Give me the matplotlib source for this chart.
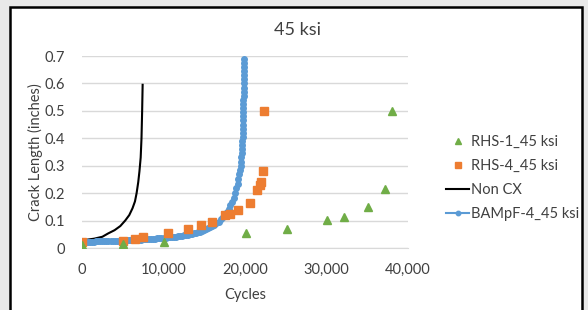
import matplotlib
matplotlib.use("Agg")
import matplotlib.pyplot as plt
from matplotlib.patches import Rectangle

plt.rcParams['font.family'] = ['Lato', 'DejaVu Sans']

# RHS-1_45 ksi (green triangles)
rhs1_x = [0, 5000, 10000, 20100, 25100, 30100, 32100, 35100, 37200, 38000]
rhs1_y = [0.012, 0.015, 0.023, 0.055, 0.070, 0.102, 0.113, 0.150, 0.215, 0.500]

# RHS-4_45 ksi (orange squares)
rhs4_x = [0, 5050, 6500, 7500, 10600, 13050, 14600, 16000, 17550, 18150,
          19100, 20600, 21500, 21800, 21950, 22250, 22370]
rhs4_y = [0.023, 0.025, 0.033, 0.039, 0.055, 0.069, 0.084, 0.096, 0.120, 0.123,
          0.139, 0.163, 0.212, 0.230, 0.240, 0.281, 0.500]

# Non CX (black line)
noncx_x = [300, 1500, 2500, 3200, 4000, 4700, 5300, 5800, 6200, 6500,
           6700, 6900, 7050, 7200, 7300, 7380, 7440]
noncx_y = [0.029, 0.034, 0.041, 0.053, 0.065, 0.080, 0.100, 0.120, 0.145, 0.170,
           0.200, 0.240, 0.280, 0.330, 0.400, 0.500, 0.595]

# BAMpF-4_45 ksi (blue line with dots)
bam_x = [0, 250, 500, 750, 1000, 1250, 1500, 1750, 2000, 2250,
         2500, 2750, 3000, 3250, 3500, 3750, 4000, 4250, 4500, 4750,
         5000, 5250, 5500, 5750, 6000, 6250, 6500, 6750, 7000, 7250,
         7500, 7750, 8000, 8250, 8500, 8750, 9000, 9250, 9500, 9750,
         10000, 10250, 10500, 10750, 11000, 11250, 11500, 11750, 12000, 12250,
         12500, 12750, 13000, 13250, 13500, 13750, 14000, 14250, 14500, 14750,
         15000, 15250, 15500, 15750, 16000, 16250, 16500, 16750, 17000, 17250,
         17500, 17750, 18000, 18200, 18400, 18600, 18800, 18950, 19100, 19200,
         19300, 19380, 19450, 19500, 19550, 19590, 19630, 19660, 19690, 19710,
         19730, 19745, 19760, 19770, 19780, 19790, 19800, 19808, 19815, 19822,
         19828, 19833, 19838, 19842, 19846, 19849, 19852, 19855, 19857]
bam_y = [0.0220, 0.0222, 0.0224, 0.0226, 0.0229, 0.0232, 0.0235, 0.0238, 0.0240, 0.0242,
         0.0244, 0.0247, 0.0250, 0.0253, 0.0256, 0.0259, 0.0262, 0.0265, 0.0268, 0.0271,
         0.0274, 0.0277, 0.0281, 0.0285, 0.0289, 0.0292, 0.0296, 0.0300, 0.0305, 0.0309,
         0.0314, 0.0318, 0.0323, 0.0328, 0.0334, 0.0339, 0.0345, 0.0351, 0.0357, 0.0363,
         0.0370, 0.0377, 0.0385, 0.0393, 0.0401, 0.0410, 0.0419, 0.0429, 0.0439, 0.0450,
         0.0462, 0.0475, 0.0489, 0.0504, 0.0519, 0.0536, 0.0555, 0.0576, 0.0598, 0.0623,
         0.0650, 0.0680, 0.0714, 0.0752, 0.0795, 0.0845, 0.0900, 0.0965, 0.104, 0.112,
         0.121, 0.131, 0.143, 0.155, 0.168, 0.183, 0.200, 0.217, 0.235, 0.251,
         0.268, 0.284, 0.300, 0.315, 0.330, 0.345, 0.360, 0.375, 0.390, 0.405,
         0.420, 0.435, 0.450, 0.465, 0.480, 0.495, 0.510, 0.525, 0.540, 0.555,
         0.570, 0.585, 0.600, 0.615, 0.630, 0.645, 0.660, 0.675, 0.690]

xticks = [0, 10000, 20000, 30000, 40000]
xticklabels = ['0', '10,000', '20,000', '30,000', '40,000']
yticks = [0, 0.1, 0.2, 0.3, 0.4, 0.5, 0.6, 0.7]
yticklabels = ['0', '0.1', '0.2', '0.3', '0.4', '0.5', '0.6', '0.7']

fig = plt.figure(figsize=(5.88, 3.10), dpi=100)
fig.patch.set_facecolor('#e9e9e9')
frame = Rectangle((10 / 588, -0.05), 572 / 588, 1.05 - 7 / 310,
                  transform=fig.transFigure, facecolor='white',
                  edgecolor='black', linewidth=1.8, zorder=-5)
fig.patches.append(frame)

ax = fig.add_axes([82 / 588, 1 - 248 / 310, 326 / 588, 192 / 310])
ax.set_facecolor('white')

ax.plot(bam_x, bam_y, color='#5B9BD5', marker='o', markersize=4, linewidth=1.5,
        label='BAMpF-4_45 ksi', zorder=3)
ax.plot(noncx_x, noncx_y, color='black', linewidth=1.5, label='Non CX', zorder=2)
ax.plot(rhs4_x, rhs4_y, linestyle='none', marker='s', markersize=6,
        color='#ED7D31', label='RHS-4_45 ksi', zorder=4)
ax.plot(rhs1_x, rhs1_y, linestyle='none', marker='^', markersize=6,
        color='#70AD47', label='RHS-1_45 ksi', zorder=4)

ax.set_xlim(0, 40000)
ax.set_ylim(0, 0.7)
ax.set_xticks(xticks)
ax.set_xticklabels(xticklabels)
ax.set_yticks(yticks)
ax.set_yticklabels(yticklabels)
ax.tick_params(length=0, labelsize=10.5, colors='#404040')
ax.tick_params(axis='y', pad=12)
ax.tick_params(axis='x', pad=11)
ax.grid(axis='y', color='#d9d9d9', linewidth=1)
ax.set_axisbelow(True)
for s in ['top', 'right', 'left']:
    ax.spines[s].set_visible(False)
ax.spines['bottom'].set_color('#d9d9d9')

ax.set_xlabel('Cycles', fontsize=10.5, color='#404040', labelpad=8)
ax.set_ylabel('Crack Length (inches)', fontsize=10.5, color='#404040', labelpad=1)
fig.text(298 / 588, 1 - 30 / 310, '45 ksi', ha='center', va='center',
         fontsize=13, color='#404040')

handles, labels = ax.get_legend_handles_labels()
order = [3, 2, 1, 0]
ax.legend([handles[i] for i in order], [labels[i] for i in order],
          loc='center left', bbox_to_anchor=(446 / 588, 1 - 178 / 310),
          bbox_transform=fig.transFigure, frameon=False, fontsize=10.5,
          labelcolor='#404040', handlelength=1.6, handletextpad=0.1,
          labelspacing=0.7, markerscale=0.8, borderpad=0, borderaxespad=0)

fig.savefig('out.png', dpi=100, facecolor=fig.get_facecolor())
